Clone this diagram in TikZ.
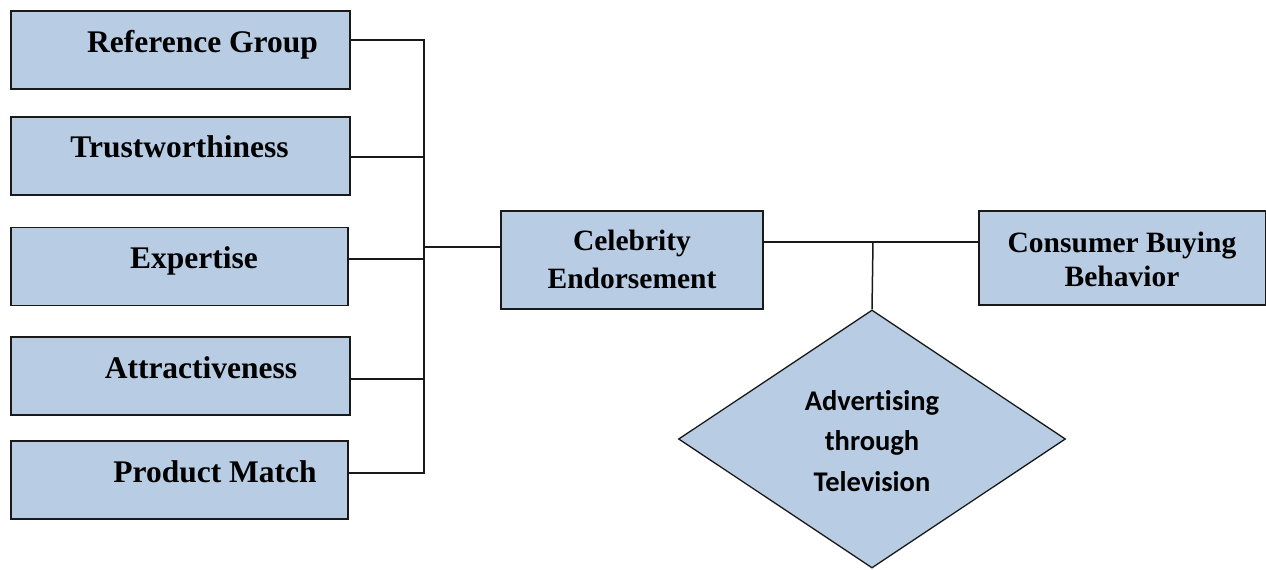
\documentclass[tikz,border=0pt]{standalone}
\usepackage{fontspec}
\setmainfont{Liberation Serif}
\newfontfamily\calib[Ligatures={NoCommon}]{Carlito}
\usetikzlibrary{shapes.geometric}
\definecolor{boxblue}{HTML}{B8CCE4}
\begin{document}
\begin{tikzpicture}[x=1pt,y=-1pt,
  box/.style={draw=black!90,line width=1.5pt,fill=boxblue,rectangle,inner sep=0pt},
  leftbox/.style={box,minimum width=339pt,minimum height=78pt},
  lbl/.style={font=\fontsize{31.5}{36}\selectfont\bfseries,anchor=base,inner sep=0pt},
  midlbl/.style={font=\fontsize{29.5}{38}\selectfont\bfseries,align=center,inner sep=0pt},
  conn/.style={line width=1.5pt,black!90}]
\useasboundingbox (0,0) rectangle (1266,570);
% left boxes
\node[leftbox] (b1) at (180.5,50) {};
\node[leftbox] (b2) at (180.5,156) {};
\node[leftbox,minimum width=337pt] (b3) at (179.5,266.5) {};
\node[leftbox] (b4) at (180.5,376) {};
\node[leftbox,minimum width=337pt] (b5) at (179.5,480) {};
\node[lbl] (t1) at (202.5,52) {Reference Group};
\node[lbl] (t2) at (179.5,157) {Trustworthiness};
\node[lbl] (t3) at (194,268) {Expertise};
\node[lbl] (t4) at (201,378) {Attractiveness};
\node[lbl] (t5) at (215,482) {Product Match};
% junctions
\coordinate (j1) at (424,40);
\coordinate (j2) at (424,157);
\coordinate (j3) at (424,259);
\coordinate (j4) at (424,379);
\coordinate (j5) at (424,473);
\coordinate (jm) at (424,247);
% center boxes
\node[box,minimum width=262pt,minimum height=98pt] (ce) at (632,260) {};
\node[midlbl] (cet) at (632,259) {Celebrity\\Endorsement};
\node[box,minimum width=287pt,minimum height=94pt] (cb) at (1122.5,258) {};
\node[midlbl,font=\fontsize{29.5}{34}\selectfont\bfseries] (cbt) at (1122,259) {Consumer Buying\\Behavior};
\coordinate (jt) at (873,242);
% diamond
\node[diamond,draw=black!90,line width=1.3pt,fill=boxblue,minimum width=387pt,minimum height=258pt,inner sep=0pt] (ad) at (872,439) {};
\node[font=\calib\fontsize{28.5}{40.5}\selectfont\bfseries,align=center,inner sep=0pt] (adt) at (872,441) {Advertising\\through\\Television};
% connectors
\draw[conn] (b1.east |- j1) -- (j1) -- (j5) -- (b5.east |- j5);
\draw[conn] (b2.east |- j2) -- (j2);
\draw[conn] (b3.east |- j3) -- (j3);
\draw[conn] (b4.east |- j4) -- (j4);
\draw[conn] (jm) -- (ce.west |- jm);
\draw[conn] (ce.east |- jt) -- (cb.west |- jt);
\draw[conn] (jt) -- (ad.north);
\end{tikzpicture}
\end{document}
